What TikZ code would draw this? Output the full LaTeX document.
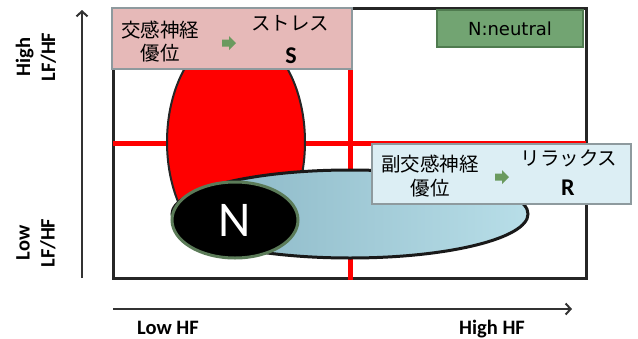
\documentclass[tikz,border=0pt]{standalone}
\usepackage{fontspec}
\setmainfont{Carlito}
\newfontfamily\jpfont{Noto Sans CJK JP}
\newfontfamily\dvfont{DejaVu Sans}
\usetikzlibrary{shapes.geometric,arrows.meta}
\definecolor{pinkfill}{HTML}{E6B9B8}
\definecolor{bluefill}{HTML}{DCEEF4}
\definecolor{greenfill}{HTML}{72A472}
\definecolor{greenline}{HTML}{4F7B4F}
\definecolor{boxline}{HTML}{8E9A9E}
\definecolor{ellL}{HTML}{86B3C2}
\definecolor{ellR}{HTML}{B8DEE8}
\definecolor{nline}{HTML}{5B7B58}
\definecolor{arrowgreen}{HTML}{6A9A5E}
\definecolor{axisgray}{HTML}{333333}
\definecolor{framegray}{HTML}{262626}
\tikzset{
  axisline/.style={draw=axisgray, line width=2pt, -{Straight Barb[length=5pt,width=11pt]}},
  axislabel/.style={font=\bfseries\fontsize{20.5}{25}\selectfont, align=center, text=black, inner sep=0pt},
  infobox/.style={draw=boxline, line width=1.5pt, inner sep=0pt},
  jptext/.style={font=\jpfont\fontsize{19.5}{22}\selectfont, inner sep=0pt},
  lettertext/.style={font=\bfseries\fontsize{24}{26}\selectfont, inner sep=0pt},
  garrow/.pic={\fill[arrowgreen] (-7,-3.5) -- (0,-3.5) -- (0,-7) -- (7,0) -- (0,7) -- (0,3.5) -- (-7,3.5) -- cycle;}
}
\begin{document}
\begin{tikzpicture}[x=1pt,y=-1pt]
\useasboundingbox (0,0) rectangle (638,338);
% axes
\coordinate (y0) at (82,278);
\coordinate (y1) at (82,10);
\coordinate (x0) at (113,309);
\coordinate (x1) at (572,309);
\draw[axisline] (y0) -- (y1);
\draw[axisline] (x0) -- (x1);
\node[axislabel, rotate=90] (hiy) at (36,57) {High\\LF/HF};
\node[axislabel, rotate=90] (loy) at (36,243) {Low\\LF/HF};
\node[axislabel, anchor=base] (lox) at (168,334) {Low HF};
\node[axislabel, anchor=base] (hix) at (492,334) {High HF};
% frame
\draw[framegray, line width=3pt] (113,8) rectangle (586,278);
% red quadrant lines
\draw[red, line width=5pt] (113,143) -- (586,143);
\draw[red, line width=5pt] (350,8) -- (350,280);
% ellipses
\draw[fill=red, draw=black!85, line width=2pt] (236,142) ellipse [x radius=69, y radius=110];
\draw[draw=black!90, line width=3pt, left color=ellL, right color=ellR] (350,214) ellipse [x radius=178, y radius=44];
\node[ellipse, draw=nline, fill=black, line width=3pt, minimum width=126pt, minimum height=76pt, inner sep=0pt, text=white, font=\fontsize{50}{50}\selectfont] (N) at (235,220) {N};
% sympathetic box
\node[infobox, fill=pinkfill, minimum width=240pt, minimum height=61pt] (sbox) at (232,38.5) {};
\node[jptext] (s1) at (160,30) {交感神経};
\node[jptext] (s2) at (160,53) {優位};
\pic at (229,43) {garrow};
\node[jptext] (s3) at (290,23) {ストレス};
\node[lettertext] (s4) at (291,56) {S};
% parasympathetic box
\node[infobox, fill=bluefill, minimum width=259pt, minimum height=60pt] (rbox) at (501.5,174) {};
\node[jptext] (r1) at (430,164) {副交感神経};
\node[jptext] (r2) at (430,188) {優位};
\pic at (502,177) {garrow};
\node[jptext] (r3) at (569,158) {リラックス};
\node[lettertext] (r4) at (568,188) {R};
% neutral box
\node[draw=greenline, fill=greenfill, line width=1.5pt, minimum width=146pt, minimum height=37pt, font=\dvfont\fontsize{18}{20}\selectfont] (nbox) at (510,28.5) {N:neutral};
\end{tikzpicture}
\end{document}
